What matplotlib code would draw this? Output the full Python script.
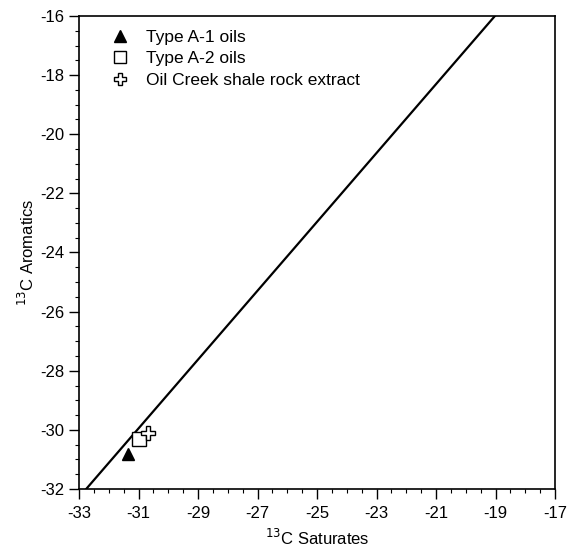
import matplotlib
matplotlib.use("Agg")
from matplotlib import pyplot as plt
from matplotlib.ticker import MultipleLocator

#
# Data
#
a1_sat = [-31.36]
a1_aro = [-30.82]
a2_sat = [-30.98]
a2_aro = [-30.32]
shale_sat = [-30.67]
shale_aro = [-30.12]

# Correlation line end points
line_sat = [-32.76, -19.02]
line_aro = [-32.0, -16.0]

x_ticks = [-33, -31, -29, -27, -25, -23, -21, -19, -17]
y_ticks = [-32, -30, -28, -26, -24, -22, -20, -18, -16]

plt.rcParams["font.family"] = ["Liberation Sans", "DejaVu Sans"]
plt.rcParams["font.size"] = 11

fig = plt.figure(figsize=(5.71, 5.51), dpi=100)
ax = fig.add_axes([0.1384, 0.1125, 0.8336, 0.8585])

ax.plot(line_sat, line_aro, color="black", linewidth=1.6, zorder=2)
ax.plot(a1_sat, a1_aro, linestyle="none", marker="^", markersize=9,
        color="black", label="Type A-1 oils", zorder=3)
ax.plot(a2_sat, a2_aro, linestyle="none", marker="s", markersize=10,
        mfc="white", mec="black", mew=1.0, label="Type A-2 oils", zorder=3)
ax.plot(shale_sat, shale_aro, linestyle="none", marker="P", markersize=10,
        mfc="white", mec="black", mew=1.0,
        label="Oil Creek shale rock extract", zorder=4)

ax.set_xlim(-33, -17)
ax.set_ylim(-32, -16)
ax.set_xticks(x_ticks)
ax.set_yticks(y_ticks)
ax.set_xticklabels([str(v) for v in x_ticks])
ax.set_yticklabels([str(v) for v in y_ticks])
ax.xaxis.set_minor_locator(MultipleLocator(0.5))
ax.yaxis.set_minor_locator(MultipleLocator(0.5))
ax.tick_params(which="major", direction="out", length=7, width=1.0, labelsize=12)
ax.tick_params(which="minor", direction="out", length=3, width=0.8)
ax.tick_params(axis="x", pad=5)

for spine in ax.spines.values():
    spine.set_linewidth(1.2)

ax.set_xlabel(r"$^{13}$C Saturates", fontsize=12, labelpad=5)
ax.set_ylabel(r"$^{13}$C Aromatics", fontsize=12, labelpad=2)

ax.legend(loc="upper left", frameon=False, fontsize=12.5,
          handletextpad=0.5, labelspacing=0.35, borderaxespad=0.0,
          bbox_to_anchor=(0.035, 0.985), numpoints=1, markerscale=0.9)

fig.savefig("out.png", dpi=100)
